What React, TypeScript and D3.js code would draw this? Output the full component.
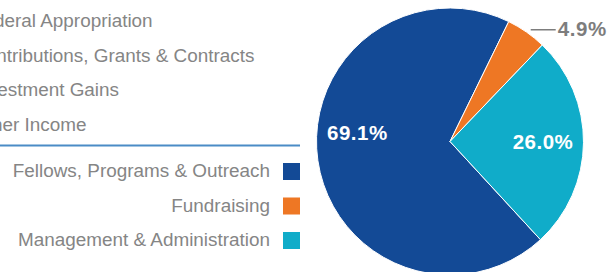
import React from "react";
import * as d3 from "d3";

const incomeLabels = ["Federal Appropriation", "Contributions, Grants & Contracts", "Investment Gains", "Other Income"];
const expenseLabels = ["Fellows, Programs & Outreach", "Fundraising", "Management & Administration"];
const expenseValues = [69.1, 4.9, 26.0];
const expenseColors = ["#134a96", "#ee7724", "#10acc9"];

const W = 612, H = 272;
const FONT = "'Liberation Sans', Arial, Helvetica, sans-serif";

export default function App() {
  const cx = 450, cy = 141.5, r = 133.5;
  const blueEnd = (26.1 * Math.PI) / 180;
  const start = blueEnd - (expenseValues[0] / 100) * 2 * Math.PI;

  const pie = d3.pie<number>().sort(null).startAngle(start).endAngle(start + 2 * Math.PI);
  const arcs = pie(expenseValues);
  const arc = d3.arc<d3.PieArcDatum<number>>().innerRadius(0).outerRadius(r);

  const legendY = d3.scalePoint<number>().domain(d3.range(incomeLabels.length)).range([27, 130.5]);
  const keyY = d3.scalePoint<number>().domain(d3.range(expenseLabels.length)).range([177, 246]);

  const fmt = (v: number) => v.toFixed(1) + "%";

  return (
    <svg width={W} height={H} style={{ position: "absolute", left: 0, top: 0 }}>
      {incomeLabels.map((t, i) => (
        <text key={t} x={-28} y={legendY(i)} fontFamily={FONT} fontSize={18.9} fill="#858585">{t}</text>
      ))}
      <line x1={0} x2={300} y1={145.5} y2={145.5} stroke="#4b8cc6" strokeWidth={2} />
      {expenseLabels.map((t, i) => (
        <g key={t}>
          <text x={270} y={keyY(i)} textAnchor="end" fontFamily={FONT} fontSize={18.9} fill="#858585">{t}</text>
          <rect x={283} y={(keyY(i) as number) - 14} width={17} height={17} fill={expenseColors[i]} />
        </g>
      ))}
      <g transform={`translate(${cx},${cy})`}>
        {arcs.map((a, i) => (
          <path key={i} d={arc(a) as string} fill={expenseColors[i]} stroke="#fff" strokeWidth={1} />
        ))}
        {arcs.map((a, i) => {
          const mid = (a.startAngle + a.endAngle) / 2;
          if (a.value < 10) {
            const rr = r + 4;
            const px = rr * Math.sin(mid), py = -rr * Math.cos(mid);
            return (
              <g key={"l" + i}>
                <line x1={px + 2} x2={px + 27} y1={py + 1} y2={py + 1} stroke="#7d7d7d" strokeWidth={1.5} />
                <text x={px + 29} y={py + 7.5} fontFamily={FONT} fontSize={20.5} fontWeight="bold" fill="#7d7d7d" letterSpacing={0.6}>{fmt(a.value)}</text>
              </g>
            );
          }
          const ang = i === 0 ? -Math.PI / 2 + 0.09 : mid;
          const lr = 93;
          return (
            <text key={"l" + i} x={lr * Math.sin(ang)} y={-lr * Math.cos(ang) + 7} textAnchor="middle"
              fontFamily={FONT} fontSize={20.5} fontWeight="bold" fill="#fff" letterSpacing={0.5}>{fmt(a.value)}</text>
          );
        })}
      </g>
    </svg>
  );
}
